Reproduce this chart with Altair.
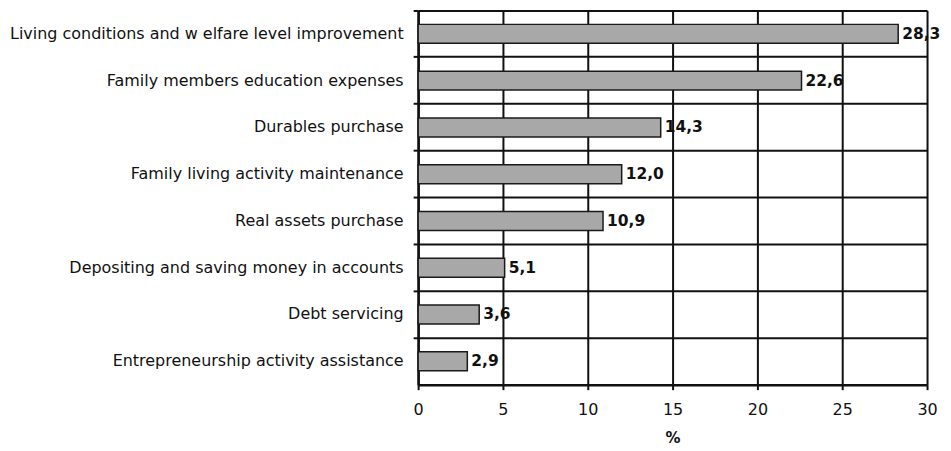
import altair as alt
import pandas as pd

categories = [
    "Living conditions and w elfare level improvement",
    "Family members education expenses",
    "Durables purchase",
    "Family living activity maintenance",
    "Real assets purchase",
    "Depositing and saving money in accounts",
    "Debt servicing",
    "Entrepreneurship activity assistance",
]
values = [28.3, 22.6, 14.3, 12.0, 10.9, 5.1, 3.6, 2.9]
x_ticks = [0, 5, 10, 15, 20, 25, 30]

df = pd.DataFrame({
    "cat": categories,
    "val": values,
    "lbl": [f"{v:.1f}".replace(".", ",") for v in values],
})

FONT = "DejaVu Sans"

y_enc = alt.Y(
    "cat:N", sort=categories, title=None,
    scale=alt.Scale(paddingInner=0, paddingOuter=0),
    axis=alt.Axis(
        bandPosition=0, grid=True, gridColor="#111", gridWidth=2, gridOpacity=1,
        domainColor="#111", domainWidth=2.5, tickColor="#111", tickWidth=2, tickSize=5,
        labelFont=FONT, labelFontSize=16, labelColor="#111", labelPadding=10,
        labelLimit=420,
    ),
)
x_scale = alt.Scale(domain=[0, 30], nice=False)
x_axis = alt.Axis(
    values=x_ticks, grid=True, gridColor="#111", gridWidth=2, gridOpacity=1,
    domainColor="#111", domainWidth=2.5, tickColor="#111", tickWidth=2, tickSize=5,
    labelFont=FONT, labelFontSize=16, labelColor="#111", labelPadding=12,
    title="%", titleFont=FONT, titleFontSize=15, titleFontWeight="bold",
    titleColor="#111", titlePadding=13, labelFlush=False,
)

bars = alt.Chart(df).mark_bar(
    size=19, fill="#a8a8a8", stroke="#1a1a1a", strokeWidth=1.5
).encode(
    y=y_enc,
    x=alt.X("val:Q", scale=x_scale, axis=x_axis),
)

labels = alt.Chart(df).mark_text(
    align="left", baseline="middle", dx=4, font=FONT, fontSize=15.5,
    fontWeight="bold", color="#111",
).encode(
    y=alt.Y("cat:N", sort=categories),
    x=alt.X("val:Q", scale=x_scale),
    text="lbl:N",
)

chart = (bars + labels).properties(
    width=510, height=375,
    autosize=alt.AutoSizeParams(type="none"),
    padding={"left": 411, "top": 2, "right": 16, "bottom": 64},
).configure_view(stroke="#111", strokeWidth=2).configure(background="white")

chart.save("out.html", embed_options={"renderer": "svg", "actions": False})
